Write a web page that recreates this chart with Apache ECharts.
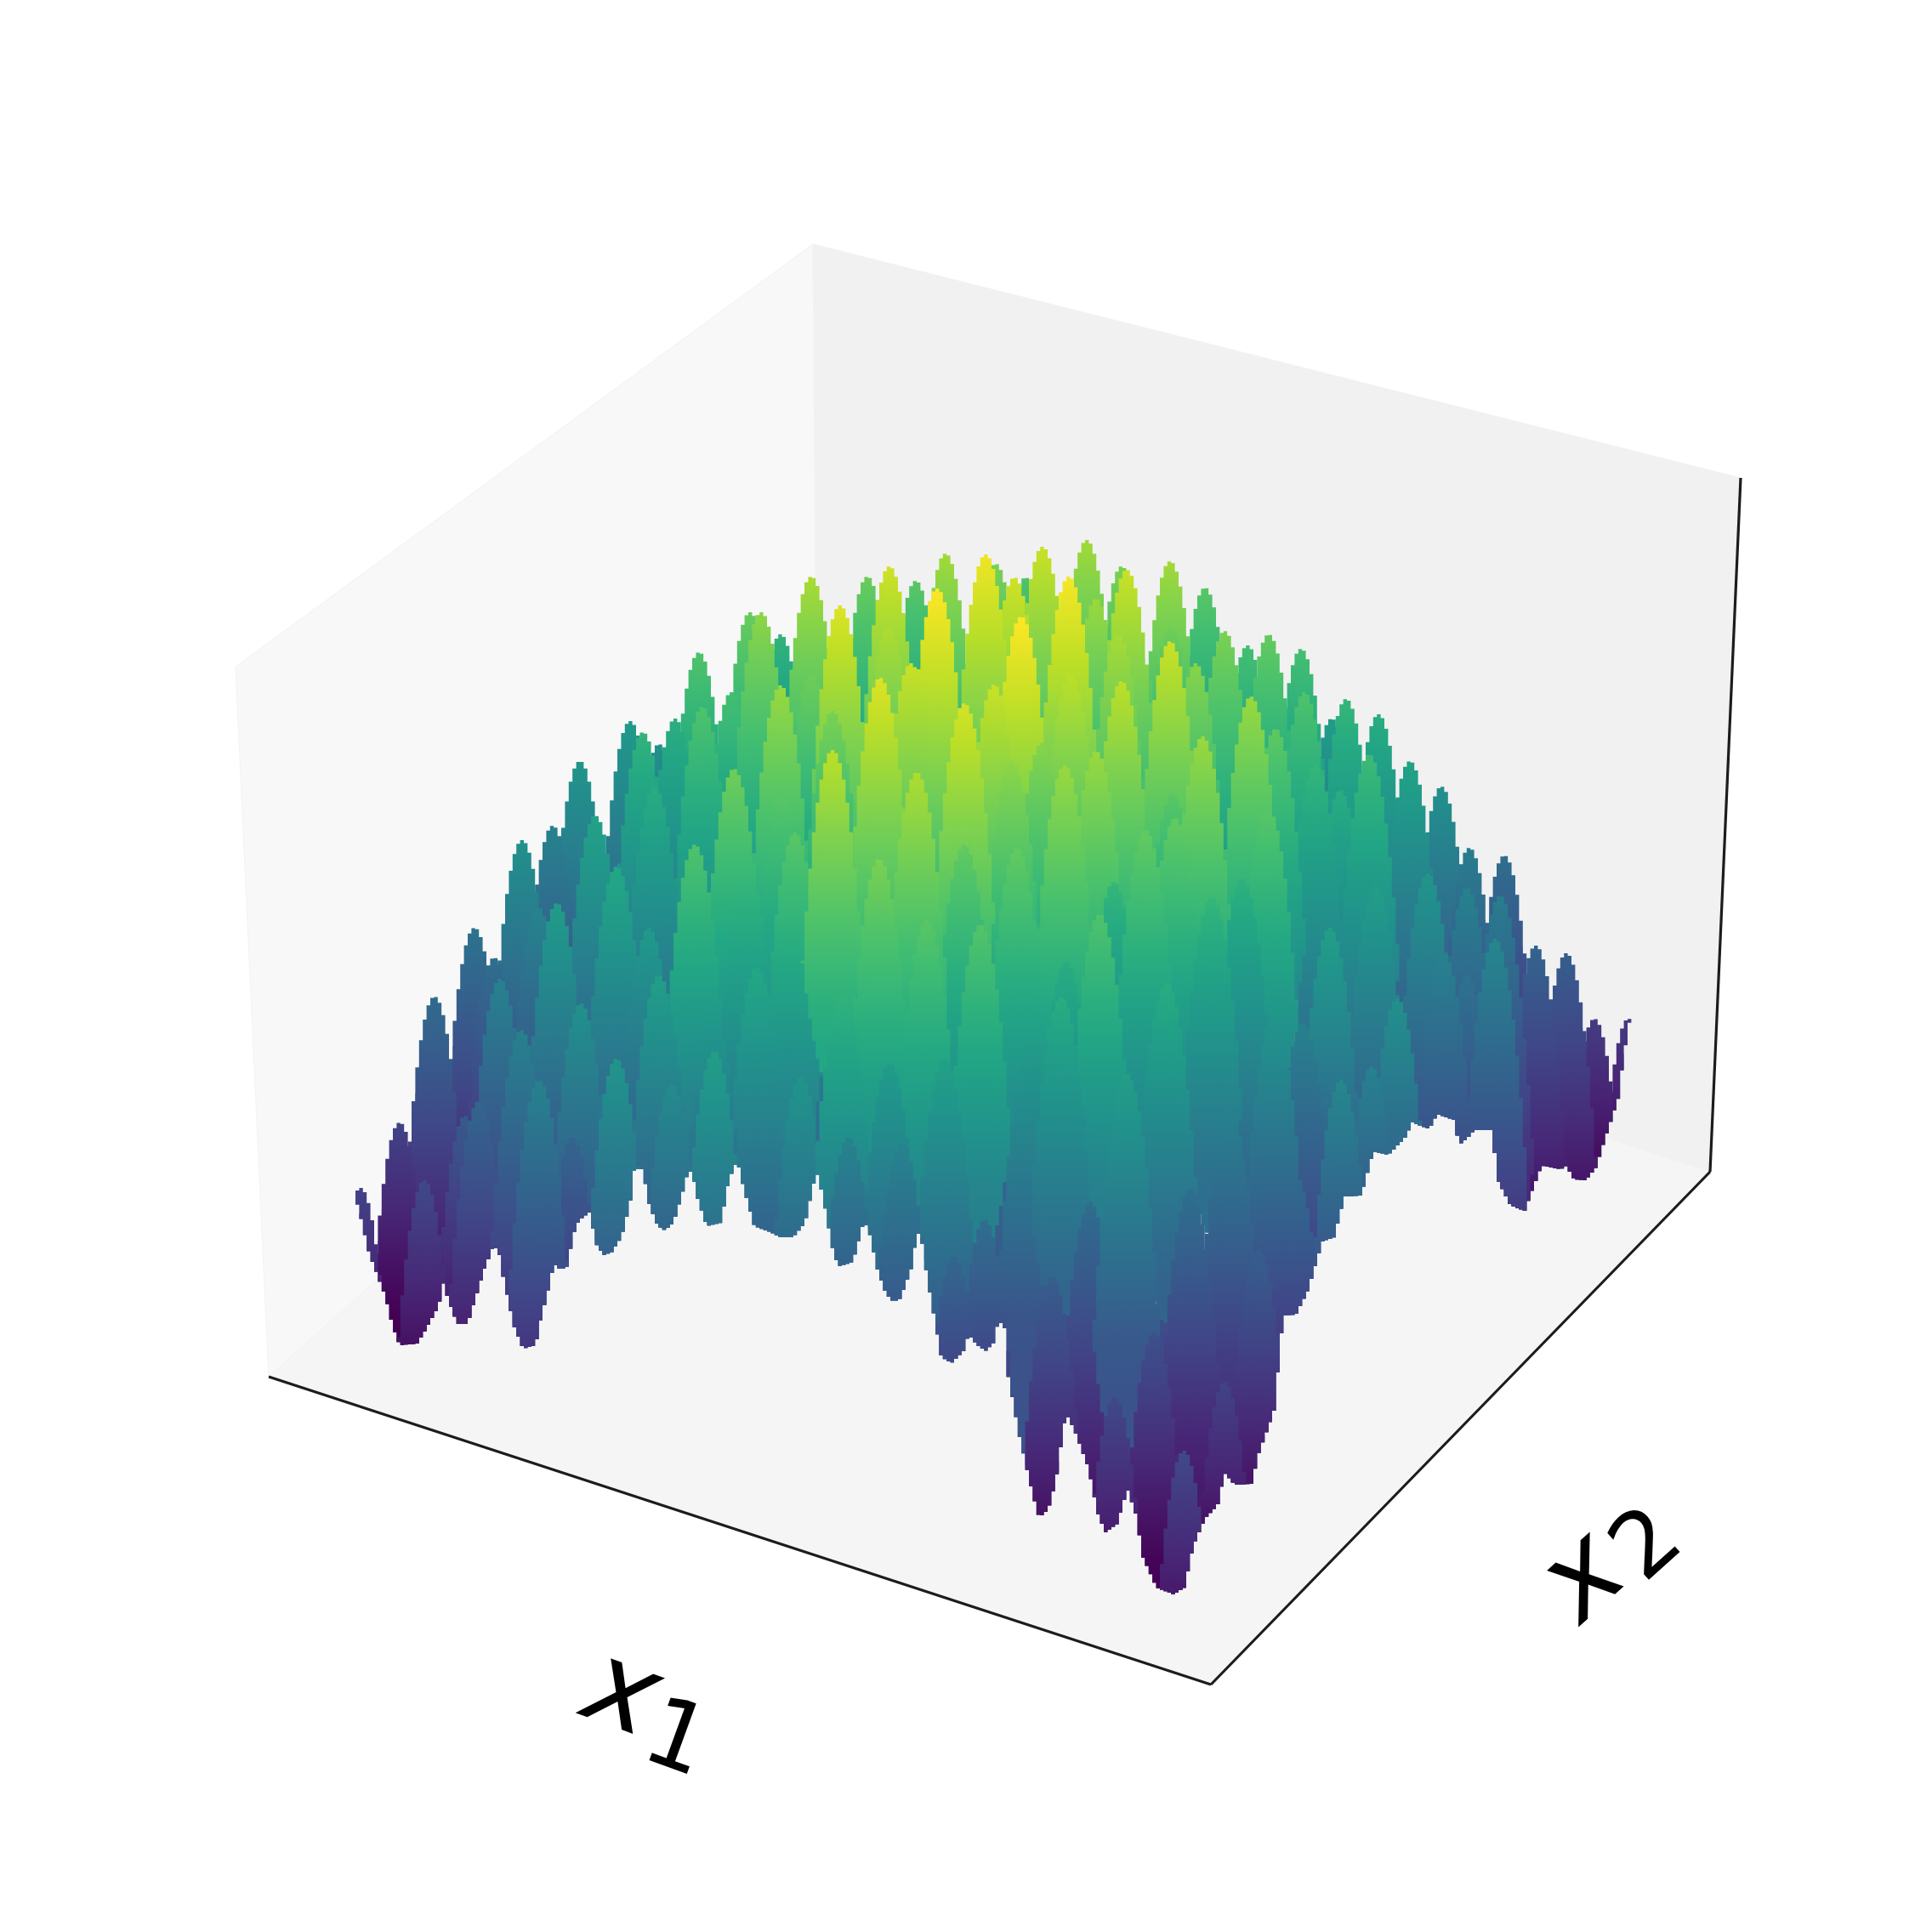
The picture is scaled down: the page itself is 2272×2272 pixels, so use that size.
<!DOCTYPE html>
<html>
<head>
<meta charset="utf-8">
<style>html,body{margin:0;padding:0;background:#fff}#chart{width:2272px;height:2272px}</style>
<script src="https://cdn.jsdelivr.net/npm/echarts@6/dist/echarts.min.js"></script>
</head>
<body>
<div id="chart"></div>
<script>
// Every peak: [across, top, level] (view-plane axis units; level = 0..1 colour scale)
const ridgePeaks = [
[424,1397,.2],[470,1320,.2],[511,1172,.35],[558,1091,.38],[581,1126,.36],[614,988,.5],[650,971,.44],[682,895,.52],
[741,848,.54],[775,875,.5],[794,845,.63],[822,767,.72],[882,720,.77],[895,720,.83],[918,746,.65],[954,678,.87],
[988,712,.95],[1020,678,.77],[1046,666,.93],[1077,683,.74],[1112,651,.86],[1159,652,.98],[1171,663,.8],[1193,679,.93],
[1206,679,.72],[1226,643,.92],[1257,678,.99],[1278,635,.86],[1319,666,.8],[1325,670,.92],[1376,660,.86],[1417,691,.74],
[1440,742,.8],[1467,759,.7],[1492,746,.76],[1530,763,.7],[1566,845,.55],[1583,822,.66],[1621,840,.62],[1658,895,.58],
[1695,925,.5],[1728,997,.42],[1769,1006,.36],[1806,1112,.32],[1842,1121,.3],[1875,1198,.18],[1915,1198,.17]
];
const middlePeaks = [
[588,1151,.44],[700,959,.58],[756,861,.65],[770,925,.62],[725,1019,.6],[655,1062,.55],[633,1067,.45],[826,831,.72],
[860,814,.7],[863,904,.78],[817,993,.72],[918,806,.85],[954,793,.78],[920,934,.74],[935,979,.74],[879,1023,.67],
[979,882,.9],[979,836,.8],[1035,797,.95],[1045,738,.88],[1071,780,.92],[1078,908,.88],[1034,1010,.8],[1102,692,1],
[1134,827,.94],[1134,993,.76],[1090,1082,.74],[763,1091,.54],[1201,725,1],[1169,805,.92],[1259,793,.9],[1319,801,.9],
[1289,704,.85],[1315,746,.87],[1341,772,.78],[1377,737,.78],[1376,754,.92],[1406,780,.82],[1471,819,.85],[1534,814,.72],
[1500,857,.75],[1414,866,.85],[1225,874,.82],[1289,883,.85],[1252,900,.85],[1190,895,.83],[1196,997,.76],[1547,899,.66],
[1610,887,.68],[1576,929,.62],[1379,933,.74],[1382,962,.76],[1491,950,.74],[1347,976,.76],[1618,1041,.56],[1679,1027,.52],
[1725,1044,.44],[1764,1053,.42],[1758,1104,.46],[1461,1033,.64],[1425,1054,.66],[1310,1037,.66],[1293,1075,.72],[1153,1087,.73]
];
const frontPeaks = [
[1254,1131,.62],[1564,1091,.56],[1372,1156,.62],[1698,1122,.44],[1725,1147,.38],[1643,1174,.5],[1498,1195,.52],[1248,1172,.62],
[1212,1225,.55],[1111,1245,.57],[1325,1263,.56],[1577,1270,.46],[1613,1254,.44],[1532,1203,.44],[775,1147,.56],[683,1180,.5],
[613,1211,.44],[725,1245,.52],[634,1270,.44],[838,1186,.54],[840,1236,.56],[890,1138,.6],[991,1168,.65],[942,1266,.52],
[1046,1250,.55],[790,1274,.48],[563,1295,.33],[547,1312,.28],[499,1388,.22],[673,1337,.33],[998,1337,.45],[1061,1344,.45],
[1446,1305,.44],[1400,1397,.37],[1282,1414,.36],[1122,1477,.33],[1158,1434,.36],[1237,1501,.3],[1357,1567,.25],[1311,1642,.22],
[1524,1383,.35],[1480,1470,.3],[1392,1706,.22],[1440,1625,.2]
];
// Lower rim of the surface, read left to right
const rimLeft = [
[415,1397],[424,1431],[434,1474],[453,1524],[462,1561],[470,1582],[491,1580],[506,1554],[516,1536],[521,1508],[528,1531],
[538,1557],[550,1557],[559,1527],[569,1494],[579,1468],[586,1468],[593,1508],[605,1561],[615,1586],[630,1582],[637,1547],
[647,1508],[651,1486],[659,1493],[668,1489],[673,1455],[681,1435],[693,1426],[702,1465],[710,1476],[719,1473],[731,1455],
[741,1415],[746,1375],[756,1375],[763,1415],[773,1441],[782,1447],[792,1438],[802,1405],[809,1378],[814,1378],[819,1405],
[831,1442],[848,1438],[857,1388],[867,1364],[874,1395],[887,1442],[903,1448],[918,1455],[933,1455],[947,1438],[957,1392],
[962,1380],[969,1415],[981,1478],[988,1489],[1003,1484],[1013,1448],[1016,1435],[1022,1448],[1032,1494],[1042,1522],[1051,1531],
[1059,1527],[1073,1488],[1078,1451],[1083,1451],[1090,1501]
];
const rimRight = [
[1107,1596],[1119,1603],[1133,1589],[1139,1569],[1148,1581],[1159,1589],[1171,1577],[1173,1556],[1181,1556],[1185,1615],[1199,1690],
[1214,1756],[1222,1785],[1233,1775],[1242,1741],[1251,1676],[1255,1664],[1264,1683],[1280,1727],[1291,1780],[1300,1802],[1314,1792],
[1326,1751],[1337,1785],[1343,1829],[1360,1867],[1380,1875],[1393,1867],[1403,1819],[1417,1786],[1432,1770],[1440,1732],[1452,1746],
[1472,1745],[1481,1707],[1498,1661],[1503,1610],[1509,1547],[1524,1546],[1538,1518],[1555,1460],[1569,1455],[1581,1407],[1601,1406],
[1615,1354],[1633,1358],[1653,1337],[1661,1320],[1681,1328],[1690,1310],[1710,1317],[1716,1346],[1727,1337],[1733,1329],[1755,1329],
[1761,1387],[1776,1417],[1793,1424],[1805,1392],[1813,1371],[1836,1375],[1842,1371],[1851,1387],[1865,1388],[1877,1373],[1891,1329],
[1905,1286],[1908,1252],[1917,1198]
];
// Box of the plot, as seen in the view plane
const wallLeft = [[277,784],[956,287],[962,1040],[316,1619]];
const wallBack = [[956,287],[2047,562],[2011,1378],[962,1040]];
const floorPane = [[316,1619],[962,1040],[2011,1378],[1424,1981]];
const spineLines = [[[316,1619],[1424,1981]],[[1424,1981],[2011,1378]],[[2011,1378],[2047,562]]];
const axisLabels = [
  {text:'x', at:[730,1996], size:136, turn:-20, face:'italic '},
  {text:'1', at:[794,2050], size:112, turn:-20, face:''},
  {text:'x', at:[1865,1858], size:136, turn:42, face:'italic '},
  {text:'2', at:[1940,1820], size:106, turn:42, face:''}
];

const viridis = ['#440154','#482475','#414487','#355f8d','#2a788e','#21918c','#22a884','#44bf70','#7ad151','#bddf26','#fde725'];
function rgb(h){return [1,3,5].map(i=>parseInt(h.substr(i,2),16));}
function colorAt(t){
  t=Math.max(0,Math.min(1,t))*10; const i=Math.min(9,Math.floor(t)), f=t-i;
  const a=rgb(viridis[i]), b=rgb(viridis[i+1]);
  return 'rgb('+a.map((c,k)=>Math.round(c+(b[k]-c)*f)).join(',')+')';
}
const rim = rimLeft.concat(rimRight);
function rimAt(x){
  if(x<rim[0][0]||x>rim[rim.length-1][0]) return null;
  for(let i=1;i<rim.length;i++){
    if(x<=rim[i][0]){const a=rim[i-1],b=rim[i];return a[1]+(b[1]-a[1])*(x-a[0])/(b[0]-a[0]);}
  }
  return null;
}
const CELL=4.4, CURVE=0.2, HALF=50, DEPTH=775, FADE=0.0009, DROP=0.3, ROUND=0.12;
const allPeaks = ridgePeaks.concat(middlePeaks,frontPeaks)
  .slice().sort((a,b)=>(a[1]+a[2]*DEPTH)-(b[1]+b[2]*DEPTH));

function renderPeak(params,api){
  const cx=api.value(0), ty=api.value(1), lv=api.value(2);
  const reach = lv<0.6 ? 500 : 400;
  const tops=[], bots=[];
  let c=Math.floor((cx-HALF)/CELL)*CELL;
  for(;c<cx+HALF;c+=CELL){
    const xc=c+CELL/2, r=rimAt(xc);
    if(r===null) continue;
    const d=Math.abs(xc-cx);
    const bot=Math.min(ty+reach-ROUND*d*d,r);
    const top=Math.min(ty+d*d*CURVE,bot);
    tops.push([c,top],[c+CELL,top]);
    bots.unshift([c+CELL,bot],[c,bot]);
  }
  if(!tops.length) return null;
  const pts=tops.concat(bots).map(p=>api.coord(p));
  let y0=Infinity,y1=-Infinity;
  tops.concat(bots).forEach(p=>{y0=Math.min(y0,p[1]);y1=Math.max(y1,p[1]);});
  const stops=[];
  for(let i=0;i<=8;i++){
    const o=i/8, y=y0+(y1-y0)*o;
    stops.push({offset:o,color:colorAt(Math.max(lv-DROP,lv-FADE*(y-ty)))});
  }
  return {type:'polygon',shape:{points:pts},
    style:{fill:{type:'linear',x:0,y:0,x2:0,y2:1,colorStops:stops},stroke:null}};
}
// Backing sheet under the peaks, between their envelope and the lower rim
function renderBody(params,api){
  const tops=[],bots=[];
  for(let c=Math.floor(rim[0][0]/CELL)*CELL;c<rim[rim.length-1][0];c+=CELL){
    const xc=c+CELL/2,r=rimAt(xc);
    if(r===null) continue;
    let env=Infinity;
    allPeaks.forEach(p=>{const d=xc-p[0];if(Math.abs(d)<HALF)env=Math.min(env,p[1]+d*d*CURVE);});
    const top=Math.min(Math.max(r-320,env+30),r);
    tops.push([c,top],[c+CELL,top]);
    bots.unshift([c+CELL,r],[c,r]);
  }
  const all=tops.concat(bots);
  let y0=Infinity,y1=-Infinity;
  all.forEach(p=>{y0=Math.min(y0,p[1]);y1=Math.max(y1,p[1]);});
  const stops=[];
  for(let i=0;i<=6;i++){
    const o=i/6,y=y0+(y1-y0)*o;
    stops.push({offset:o,color:colorAt(0.55-0.00056*(y-1000))});
  }
  return {type:'polygon',shape:{points:all.map(p=>api.coord(p))},
    style:{fill:{type:'linear',x:0,y:0,x2:0,y2:1,colorStops:stops},stroke:null}};
}
function paneSeries(points,color){
  return {type:'custom',coordinateSystem:'cartesian2d',silent:true,clip:false,data:[0],
    renderItem:(p,api)=>({type:'polygon',shape:{points:points.map(q=>api.coord(q))},style:{fill:color,stroke:'#f3f3f3',lineWidth:1}})};
}
const chart = echarts.init(document.getElementById('chart'),null,{renderer:'canvas'});
chart.setOption({
  animation:false,
  backgroundColor:'#ffffff',
  grid:{left:0,right:0,top:0,bottom:0},
  xAxis:{type:'value',min:0,max:2272,show:false},
  yAxis:{type:'value',min:0,max:2272,inverse:true,show:false},
  series:[
    paneSeries(wallLeft,'#f8f8f8'),
    paneSeries(wallBack,'#f1f1f1'),
    paneSeries(floorPane,'#f5f5f5'),
    {type:'custom',coordinateSystem:'cartesian2d',silent:true,clip:false,data:spineLines.map((s,i)=>i),
      renderItem:(p,api)=>{const s=spineLines[p.dataIndex];
        return {type:'line',shape:{x1:api.coord(s[0])[0],y1:api.coord(s[0])[1],x2:api.coord(s[1])[0],y2:api.coord(s[1])[1]},
          style:{stroke:'#1c1c1c',lineWidth:3.2}};}},
    {type:'custom',coordinateSystem:'cartesian2d',silent:true,clip:false,data:[0],renderItem:renderBody},
    {type:'custom',coordinateSystem:'cartesian2d',silent:true,clip:false,
      data:allPeaks,encode:{x:0,y:1},renderItem:renderPeak},
    {type:'custom',coordinateSystem:'cartesian2d',silent:true,clip:false,data:axisLabels.map((l,i)=>i),
      renderItem:(p,api)=>{const l=axisLabels[p.dataIndex],q=api.coord(l.at);
        return {type:'text',x:q[0],y:q[1],rotation:l.turn*Math.PI/180,
          style:{text:l.text,fill:'#000',align:'center',verticalAlign:'middle',
            font:l.face+l.size+'px "DejaVu Sans"'}};}}
  ]
});
</script>
</body>
</html>
